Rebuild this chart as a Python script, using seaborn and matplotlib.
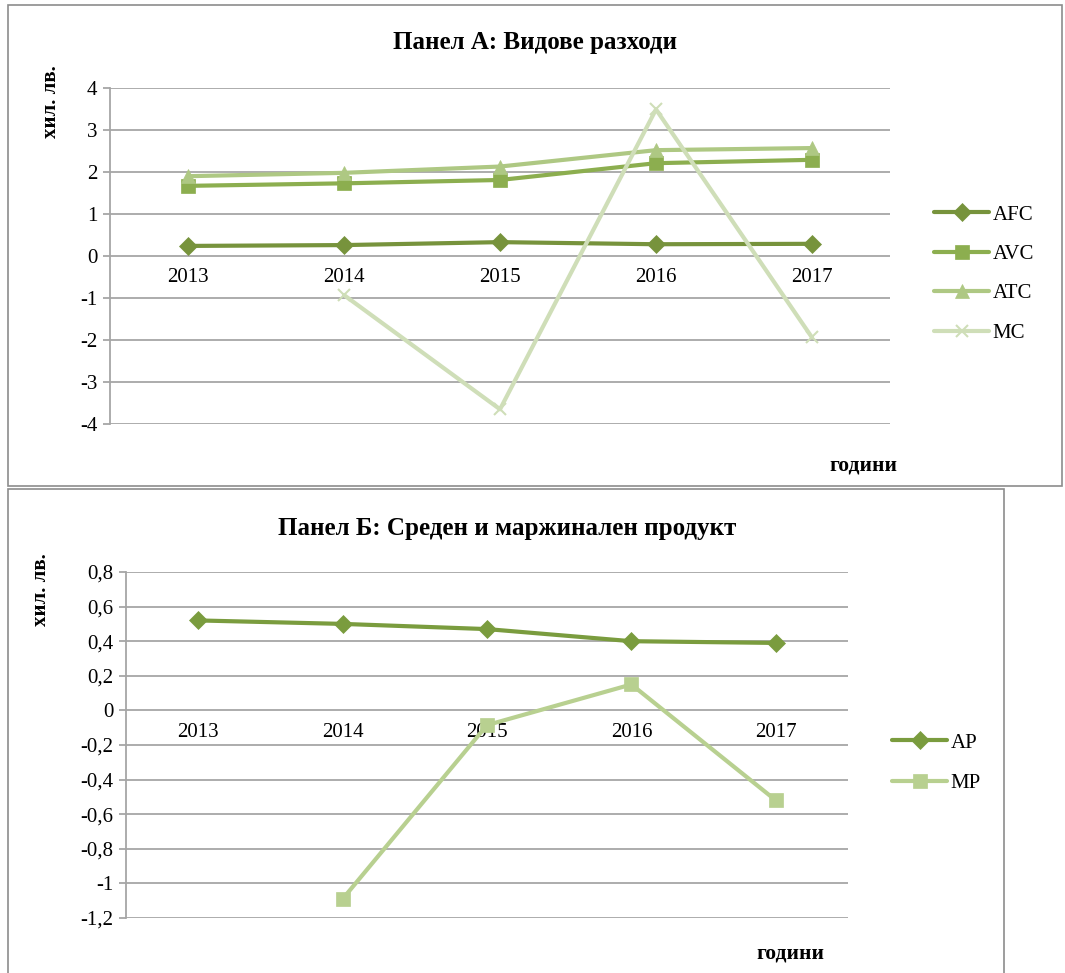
import numpy as np
import pandas as pd
import matplotlib
matplotlib.use("Agg")
import matplotlib.pyplot as plt
from matplotlib.patches import Rectangle
from matplotlib.ticker import FuncFormatter, FixedLocator
import seaborn as sns

# ---- data ----
years = ["2013", "2014", "2015", "2016", "2017"]
afc = [0.24, 0.26, 0.33, 0.28, 0.29]
avc = [1.67, 1.73, 1.81, 2.21, 2.29]
atc = [1.90, 1.98, 2.13, 2.52, 2.57]
mc = [np.nan, -0.93, -3.65, 3.49, -1.94]

ap = [0.52, 0.50, 0.47, 0.40, 0.39]
mp = [np.nan, -1.09, -0.085, 0.15, -0.52]

title_a = "Панел А: Видове разходи"
title_b = "Панел Б: Среден и маржинален продукт"
ylab = "хил. лв."
xlab = "години"

sns.set_theme(style="white")
plt.rcParams["font.family"] = ["Liberation Serif", "DejaVu Serif"]
plt.rcParams["axes.unicode_minus"] = False
plt.rcParams["text.color"] = "black"

W, H = 1065, 973
fig = plt.figure(figsize=(W / 100, H / 100), dpi=100)

def fx(px):
    return px / W

def fy(py):
    return 1 - py / H

GRID = "#A6A6A6"
TXT = 15

# frames
fig.patches.append(Rectangle((fx(8), fy(486)), fx(1062) - fx(8), fy(5) - fy(486),
                             transform=fig.transFigure, fill=False, ec="#8C8C8C", lw=1.2))
fig.patches.append(Rectangle((fx(8), fy(990)), fx(1004) - fx(8), fy(489) - fy(990),
                             transform=fig.transFigure, fill=False, ec="#8C8C8C", lw=1.2))

def style_axes(ax, ymin, ymax, step, fmt):
    ax.set_xlim(-0.5, 4.5)
    ax.set_ylim(ymin, ymax)
    ticks = np.round(np.arange(ymin, ymax + step / 2, step), 6)
    ax.yaxis.set_major_locator(FixedLocator(ticks))
    ax.yaxis.set_major_formatter(FuncFormatter(fmt))
    ax.grid(axis="y", color=GRID, lw=1.3)
    ax.grid(axis="x", visible=False)
    for s in ["top", "right"]:
        ax.spines[s].set_visible(False)
    ax.spines["left"].set_color(GRID)
    ax.spines["left"].set_linewidth(1.3)
    ax.spines["bottom"].set_position(("data", 0))
    ax.spines["bottom"].set_visible(False)
    ax.tick_params(axis="y", left=True, length=5, width=1.3, color=GRID,
                   labelsize=TXT, pad=4, labelcolor="black")
    ax.tick_params(axis="x", bottom=False, length=0, labelsize=TXT, pad=9,
                   labelcolor="black")
    ax.set_xlabel("")
    ax.set_ylabel("")
    ax.set_facecolor("white")

# ---- Panel A ----
axA = fig.add_axes([fx(110), fy(424), fx(890) - fx(110), fy(88) - fy(424)])
dfA = pd.DataFrame({"year": years, "AFC": afc, "AVC": avc, "ATC": atc, "MC": mc})
specA = [("AFC", "#77933C", "D", 9),
         ("AVC", "#8CAE4F", "s", 9.5),
         ("ATC", "#AEC883", "^", 10),
         ("MC", "#CFDEB8", "x", 9)]
for name, col, mk, ms in specA:
    sns.lineplot(data=dfA, x="year", y=name, ax=axA, color=col, lw=3.0,
                 marker=mk, markersize=ms, markeredgecolor=col,
                 markeredgewidth=1.5 if mk == "x" else 0.5, label=name, sort=False)
style_axes(axA, -4, 4, 1, lambda v, p: f"{v:.0f}")
axA.legend(loc="center left", bbox_to_anchor=(fx(924), fy(274)),
           bbox_transform=fig.transFigure, frameon=False, fontsize=TXT,
           handlelength=2.6, handletextpad=0.2, labelspacing=0.95, borderpad=0)

# ---- Panel B ----
axB = fig.add_axes([fx(126), fy(918), fx(848) - fx(126), fy(572) - fy(918)])
dfB = pd.DataFrame({"year": years, "AP": ap, "MP": mp})
specB = [("AP", "#7A9C3E", "D", 9),
         ("MP", "#B8D090", "s", 10)]
for name, col, mk, ms in specB:
    sns.lineplot(data=dfB, x="year", y=name, ax=axB, color=col, lw=3.0,
                 marker=mk, markersize=ms, markeredgecolor=col,
                 markeredgewidth=0.5, label=name, sort=False)

def fmtB(v, p):
    if abs(v) < 1e-9:
        return "0"
    s = f"{v:.1f}".replace(".", ",")
    if s.endswith(",0"):
        s = s[:-2]
    return s

style_axes(axB, -1.2, 0.8, 0.2, fmtB)
axB.legend(loc="center left", bbox_to_anchor=(fx(882), fy(763)),
           bbox_transform=fig.transFigure, frameon=False, fontsize=TXT,
           handlelength=2.6, handletextpad=0.2, labelspacing=1.0, borderpad=0)

# ---- texts ----
fig.text(fx(535), fy(43), title_a, ha="center", va="center", fontsize=18, fontweight="bold")
fig.text(fx(507), fy(528), title_b, ha="center", va="center", fontsize=18, fontweight="bold")
fig.text(fx(51), fy(102), ylab, ha="center", va="center", rotation=90, fontsize=15,
         fontweight="bold")
fig.text(fx(41), fy(590), ylab, ha="center", va="center", rotation=90, fontsize=15,
         fontweight="bold")
fig.text(fx(863), fy(465), xlab, ha="center", va="center", fontsize=15.5, fontweight="bold")
fig.text(fx(790), fy(953), xlab, ha="center", va="center", fontsize=15.5, fontweight="bold")

fig.savefig("out.png", dpi=100, facecolor="white")
